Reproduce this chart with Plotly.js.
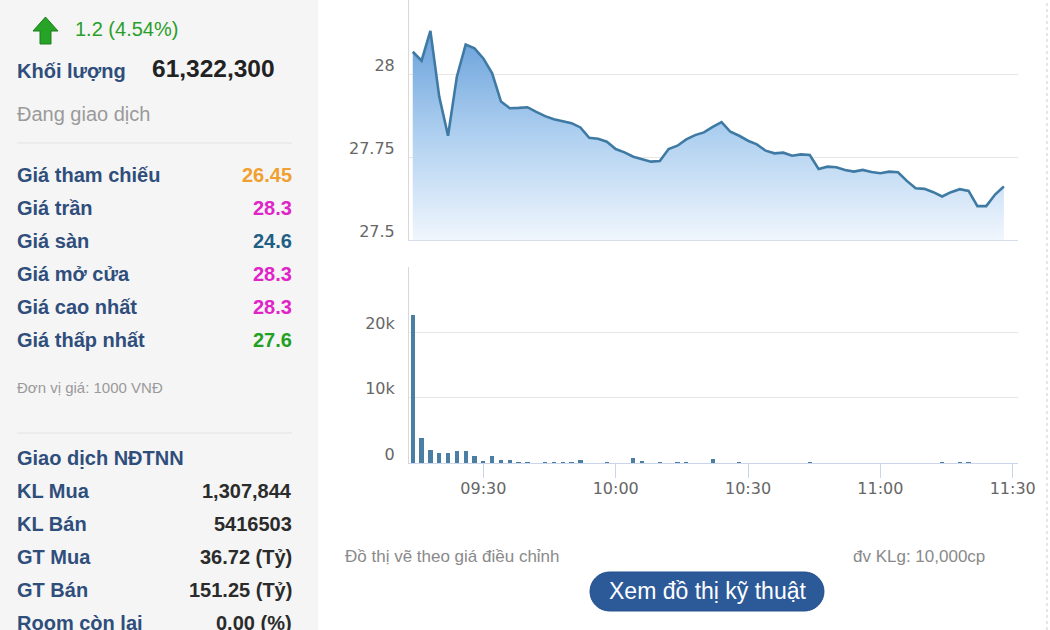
<!DOCTYPE html>
<html>
<head>
<meta charset="utf-8">
<script src="https://cdn.plot.ly/plotly-3.0.1.min.js"></script>
<style>
html,body{margin:0;padding:0;background:#fff;}
#chart{width:1050px;height:630px;}
</style>
</head>
<body>
<div id="chart"></div>
<script>
// ---- Data ----
const times = ["09:14","09:16","09:18","09:20","09:22","09:24","09:26","09:28","09:30","09:32",
"09:34","09:36","09:38","09:40","09:42","09:44","09:46","09:48","09:50","09:52",
"09:54","09:56","09:58","10:00","10:02","10:04","10:06","10:08","10:10","10:12",
"10:14","10:16","10:18","10:20","10:22","10:24","10:26","10:28","10:30","10:32",
"10:34","10:36","10:38","10:40","10:42","10:44","10:46","10:48","10:50","10:52",
"10:54","10:56","10:58","11:00","11:02","11:04","11:06","11:08","11:10","11:12",
"11:14","11:16","11:18","11:20","11:22","11:24","11:26","11:28"];

const prices = [28.067,28.040,28.130,27.932,27.814,27.992,28.089,28.077,28.047,28.002,
27.917,27.897,27.898,27.900,27.886,27.873,27.864,27.858,27.852,27.839,
27.808,27.805,27.796,27.774,27.764,27.751,27.744,27.736,27.738,27.774,
27.784,27.803,27.816,27.824,27.841,27.855,27.826,27.814,27.799,27.788,
27.769,27.761,27.763,27.754,27.758,27.756,27.714,27.721,27.719,27.711,
27.706,27.711,27.705,27.701,27.706,27.704,27.678,27.656,27.654,27.644,
27.631,27.644,27.653,27.648,27.602,27.602,27.637,27.661];

const volumes = [22700,3800,2000,1500,1500,1900,1900,1000,300,1000,
450,450,200,200,0,200,200,200,200,450,
0,0,200,0,0,700,250,0,200,0,
200,200,0,0,600,0,0,200,0,0,
0,0,0,0,0,200,0,0,0,0,
0,0,0,0,0,0,0,0,0,0,
200,0,200,200,0,0,0,0];

const priceTicks = [27.5, 27.75, 28];
const priceTickText = ["27.5", "27.75", "28"];
const volTicks = [0, 10000, 20000, 30000];
const volTickText = ["0", "10k", "20k", ""];
const timeTicks = ["09:30", "10:00", "10:30", "11:00", "11:30"];

const changeText = "1.2 (4.54%)";
const volumeLabel = "Khối lượng";
const volumeValue = "61,322,300";
const statusText = "Đang giao dịch";
const priceLabels = ["Giá tham chiếu", "Giá trần", "Giá sàn", "Giá mở cửa", "Giá cao nhất", "Giá thấp nhất"];
const priceValues = ["26.45", "28.3", "24.6", "28.3", "28.3", "27.6"];
const unitText = "Đơn vị giá: 1000 VNĐ";
const foreignTitle = "Giao dịch NĐTNN";
const foreignLabels = ["KL Mua", "KL Bán", "GT Mua", "GT Bán", "Room còn lại"];
const foreignValues = ["1,307,844", "5416503", "36.72 (Tỷ)", "151.25 (Tỷ)", "0.00 (%)"];
const noteLeft = "Đồ thị vẽ theo giá điều chỉnh";
const noteRight = "đv KLg: 10,000cp";
const buttonText = "Xem đồ thị kỹ thuật";

// ---- Styles ----
const priceValueColors = ["#f0a030", "#e024c8", "#1f5f85", "#e024c8", "#e024c8", "#22a022"];
const W = 1050, H = 630;
const px = x => x / W;
const py = y => 1 - y / H;
const day = "2024-01-01 ";
const xs = times.map(t => day + t);
const xRange = [day + "09:13:09", day + "11:31:12"];
const labelColor = "#2f4e7c";
const labFont = "Liberation Sans, Arial, sans-serif";

function pathPx(pts) {
  return "M " + pts.map(p => px(p[0]).toFixed(5) + "," + py(p[1]).toFixed(5)).join(" L ") + " Z";
}
function pill(x0, y0, x1, y1) {
  const r = (y1 - y0) / 2, k = 0.5523 * r;
  const P = (x, y) => px(x).toFixed(5) + "," + py(y).toFixed(5);
  return "M " + P(x0 + r, y0) + " L " + P(x1 - r, y0) +
    " C " + P(x1 - r + k, y0) + " " + P(x1, y0 + r - k) + " " + P(x1, y0 + r) +
    " C " + P(x1, y0 + r + k) + " " + P(x1 - r + k, y1) + " " + P(x1 - r, y1) +
    " L " + P(x0 + r, y1) +
    " C " + P(x0 + r - k, y1) + " " + P(x0, y0 + r + k) + " " + P(x0, y0 + r) +
    " C " + P(x0, y0 + r - k) + " " + P(x0 + r - k, y0) + " " + P(x0 + r, y0) + " Z";
}

const traces = [
  {
    type: "scatter", mode: "lines", x: xs, y: prices,
    xaxis: "x", yaxis: "y",
    line: {color: "#3e7aa3", width: 2.6},
    fill: "tozeroy",
    fillcolor: "rgba(140,185,230,0.6)",
    fillgradient: {type: "vertical", start: 27.5, stop: 28.13,
      colorscale: [[0, "rgba(240,246,253,1)"], [0.5, "rgba(175,208,240,1)"], [1, "rgba(104,160,218,1)"]]},
    hoverinfo: "skip"
  },
  {
    type: "bar", x: xs, y: volumes, xaxis: "x2", yaxis: "y2",
    marker: {color: "#4a7ea2", line: {width: 0}},
    width: 58000,
    hoverinfo: "skip"
  }
];

const tickFont = {family: "DejaVu Sans, sans-serif", size: 16, color: "#666"};
const xDom = [px(409), px(1018)];

const layout = {
  width: W, height: H,
  margin: {l: 0, r: 0, t: 0, b: 0},
  paper_bgcolor: "#ffffff", plot_bgcolor: "rgba(0,0,0,0)",
  showlegend: false,
  bargap: 0,
  xaxis: {
    domain: xDom, range: xRange, type: "date", anchor: "y",
    showticklabels: false, showgrid: false, zeroline: false,
    showline: true, linecolor: "#d5dde8", linewidth: 1, ticks: ""
  },
  yaxis: {
    domain: [py(240), 1], range: [27.5, 27.5 + 240 / 332], anchor: "x",
    tickvals: priceTicks, ticktext: priceTickText,
    showgrid: true, gridcolor: "#e6e6e6", gridwidth: 1, zeroline: false,
    showline: true, linecolor: "#d8d8d8", linewidth: 1,
    tickfont: tickFont, ticks: "", ticklabelshift: -9, ticklabelstandoff: 10
  },
  xaxis2: {
    domain: xDom, range: xRange, type: "date", anchor: "y2",
    tickvals: timeTicks.map(t => day + t), ticktext: timeTicks,
    showgrid: false, zeroline: false,
    showline: true, linecolor: "#ccd6eb", linewidth: 1,
    ticks: "outside", ticklen: 14, tickcolor: "#ccd6eb", tickwidth: 1,
    tickfont: tickFont, ticklabelstandoff: -3
  },
  yaxis2: {
    domain: [py(463), py(267)], range: [0, 30000], anchor: "x2",
    tickvals: volTicks, ticktext: volTickText,
    showgrid: true, gridcolor: "#e6e6e6", gridwidth: 1, zeroline: false,
    showline: true, linecolor: "#d8d8d8", linewidth: 1,
    tickfont: tickFont, ticks: "", ticklabelshift: -9, ticklabelstandoff: 10
  },
  shapes: [
    {type: "rect", xref: "paper", yref: "paper", x0: 0, x1: px(318), y0: 0, y1: 1,
      fillcolor: "#f5f5f5", line: {width: 0}, layer: "below"},
    {type: "line", xref: "paper", yref: "paper", x0: px(17), x1: px(292), y0: py(143), y1: py(143),
      line: {color: "#e3e3e3", width: 1}},
    {type: "line", xref: "paper", yref: "paper", x0: px(17), x1: px(292), y0: py(433), y1: py(433),
      line: {color: "#e3e3e3", width: 1}},
    {type: "line", xref: "paper", yref: "paper", x0: px(1047), x1: px(1047), y0: 0, y1: 1,
      line: {color: "#cfcfcf", width: 1, dash: "dot"}},
    {type: "path", xref: "paper", yref: "paper",
      path: pathPx([[45.5,17],[33,31],[40,31],[40,44],[51,44],[51,31],[58,31]]),
      fillcolor: "#27a327", line: {color: "#1b7d1b", width: 1}},
    {type: "path", xref: "paper", yref: "paper", path: pill(590, 572, 824, 611),
      fillcolor: "#2c5a98", line: {color: "#24508c", width: 1}}
  ],
  annotations: []
};

const A = layout.annotations;
function txt(text, x, y, anchor, size, color, bold, fam) {
  const dx = anchor === "left" ? -2 : (anchor === "right" ? 2 : 0);
  A.push({text: bold ? "<b>" + text + "</b>" : text, xref: "paper", yref: "paper",
    x: px(x + dx), y: py(y), xanchor: anchor, yanchor: "middle", showarrow: false,
    font: {family: fam || labFont, size: size, color: color}});
}
txt(changeText, 75, 29, "left", 20, "#2a9e2a", false);
txt(volumeLabel, 17, 71, "left", 20, labelColor, true);
txt(volumeValue, 152, 68, "left", 24.5, "#222", true);
txt(statusText, 17, 114, "left", 20, "#9a9a9a", false);
priceLabels.forEach((l, i) => {
  txt(l, 17, 175 + i * 33, "left", 20, labelColor, true);
  txt(priceValues[i], 292, 175 + i * 33, "right", 20, priceValueColors[i], true);
});
txt(unitText, 17, 387, "left", 15, "#9a9a9a", false);
txt(foreignTitle, 17, 458, "left", 20, labelColor, true);
foreignLabels.forEach((l, i) => {
  txt(l, 17, 491 + i * 33, "left", 20, labelColor, true);
  txt(foreignValues[i], 292, 491 + i * 33, "right", 20, "#2b2b2b", true);
});
txt(noteLeft, 345, 556, "left", 17, "#8a8a8a", false);
txt(noteRight, 985, 556, "right", 17, "#8a8a8a", false);
txt(buttonText, 707, 591, "center", 23, "#ffffff", false);

Plotly.newPlot("chart", traces, layout, {staticPlot: true, displayModeBar: false});
</script>
</body>
</html>
